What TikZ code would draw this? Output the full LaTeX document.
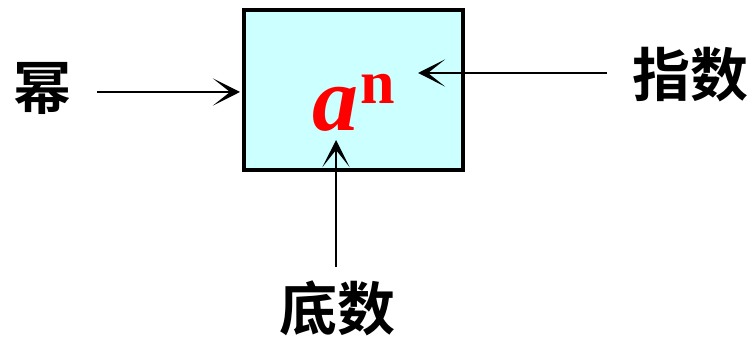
\documentclass[tikz,border=0pt]{standalone}
\usepackage{fontspec}
\setmainfont{Liberation Serif}
\newfontfamily\cjk[BoldFont={Noto Sans CJK SC Bold}]{Noto Sans CJK SC}
\usetikzlibrary{arrows.meta}
\definecolor{boxfill}{HTML}{CCFFFF}
\definecolor{ared}{HTML}{FF0000}
\tikzset{
  arr/.style={line width=2pt, -{Stealth[length=27pt,width=27pt,inset=17pt]}},
  lbl/.style={font=\cjk\bfseries\fontsize{58}{58}\selectfont, inner sep=0pt},
  mainbox/.style={draw, line width=4pt, fill=boxfill, minimum width=219pt, minimum height=160pt, inner sep=0pt, outer sep=0pt}
}
\begin{document}
\begin{tikzpicture}[x=1pt,y=-1pt]
\useasboundingbox (0,0) rectangle (755,339);
\node[mainbox] (box) at (353.5,90) {};
\node[anchor=base west, inner sep=0pt, text=ared] (an) at (312,131)
  {\fontsize{92}{92}\selectfont\bfseries\itshape a\upshape\kern2pt\raisebox{27pt}{\fontsize{62}{62}\selectfont n}};
\node[lbl] (mi) at (42,88) {幂};
\node[lbl] (zhi) at (690,75) {指数};
\node[lbl] (di) at (337,308) {底数};
\coordinate (ms) at (97,92);
\coordinate (me) at (240,92);
\coordinate (zs) at (607,73);
\coordinate (ze) at (418,73);
\coordinate (ds) at (336,267);
\coordinate (de) at (336,140);
\draw[arr] (ms) -- (me);
\draw[arr] (zs) -- (ze);
\draw[arr] (ds) -- (de);
\end{tikzpicture}
\end{document}
